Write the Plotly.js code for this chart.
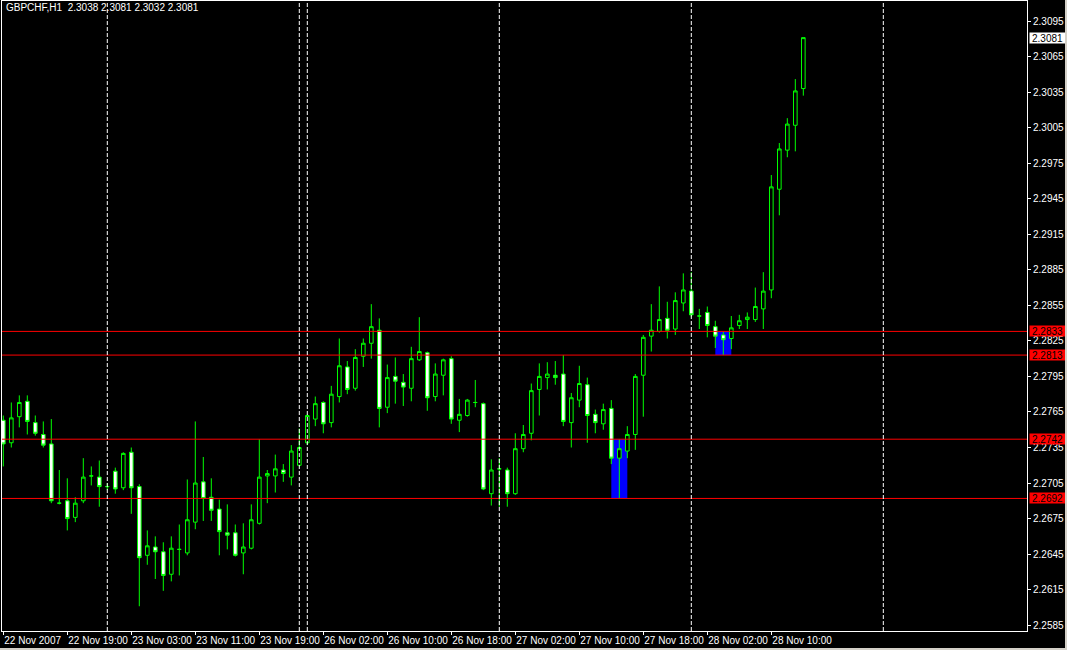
<!DOCTYPE html>
<html><head><meta charset="utf-8">
<script src="https://cdn.plot.ly/plotly-3.0.1.min.js"></script>
<style>html,body{margin:0;padding:0;background:#d4d0c8;overflow:hidden}#chart{width:1065px;height:648px;background:#000}</style>
</head><body><div id="chart"></div><script>
const symbolTitle = "GBPCHF,H1\u00a0\u00a02.3038 2.3081 2.3032 2.3081";
const openP = [2.2758,2.2739,2.2761,2.2774,2.2756,2.2746,2.2738,2.2688,2.2690,2.2676,
2.2690,2.2711,2.2710,2.2702,2.2715,2.2701,2.2731,2.2702,2.2644,2.2651,
2.2647,2.2628,2.2649,2.2646,2.2672,2.2706,2.2693,2.2683,2.2663,2.2663,
2.2646,2.2650,2.2671,2.2711,2.2711,2.2716,2.2710,2.2720,2.2739,2.2759,
2.2773,2.2756,2.2778,2.2803,2.2785,2.2812,2.2823,2.2834,2.2769,2.2795,
2.2790,2.2785,2.2809,2.2815,2.2778,2.2796,2.2810,2.2758,2.2762,2.2773,
2.2772,2.2696,2.2717,2.2716,2.2696,2.2734,2.2747,2.2784,2.2794,2.2796,
2.2797,2.2756,2.2775,2.2788,2.2763,2.2755,2.2768,2.2726,2.2732,2.2746,
2.2796,2.2829,2.2833,2.2844,2.2835,2.2857,2.2867,2.2846,2.2849,2.2837,
2.2830,2.2827,2.2838,2.2843,2.2843,2.2852,2.2868,2.2953,2.2986,2.3007,2.3038];
const highP = [2.2762,2.2773,2.2779,2.2779,2.2762,2.2757,2.2759,2.2716,2.2709,2.2693,
2.2726,2.2719,2.2724,2.2705,2.2718,2.2731,2.2735,2.2704,2.2665,2.2660,
2.2655,2.2660,2.2670,2.2708,2.2757,2.2727,2.2709,2.2691,2.2687,2.2670,
2.2671,2.2687,2.2742,2.2716,2.2729,2.2721,2.2737,2.2751,2.2763,2.2778,
2.2774,2.2787,2.2827,2.2808,2.2818,2.2827,2.2856,2.2844,2.2805,2.2811,
2.2797,2.2820,2.2845,2.2816,2.2806,2.2810,2.2812,2.2776,2.2776,2.2792,
2.2773,2.2725,2.2726,2.2718,2.2747,2.2754,2.2789,2.2806,2.2807,2.2808,
2.2813,2.2781,2.2804,2.2794,2.2767,2.2772,2.2775,2.2742,2.2753,2.2797,
2.2830,2.2856,2.2871,2.2858,2.2866,2.2882,2.2883,2.2852,2.2854,2.2842,
2.2833,2.2846,2.2847,2.2849,2.2870,2.2883,2.2965,2.2992,2.3013,2.3046,2.3081];
const lowP = [2.2719,2.2735,2.2752,2.2746,2.2745,2.2735,2.2688,2.2687,2.2665,2.2672,
2.2688,2.2703,2.2685,2.2699,2.2696,2.2699,2.2679,2.2601,2.2636,2.2624,
2.2614,2.2622,2.2627,2.2644,2.2666,2.2673,2.2673,2.2644,2.2649,2.2643,
2.2628,2.2649,2.2670,2.2688,2.2697,2.2706,2.2703,2.2719,2.2737,2.2753,
2.2747,2.2752,2.2773,2.2780,2.2783,2.2803,2.2810,2.2752,2.2764,2.2772,
2.2770,2.2774,2.2808,2.2766,2.2774,2.2779,2.2755,2.2748,2.2761,2.2769,
2.2699,2.2686,2.2685,2.2685,2.2695,2.2731,2.2741,2.2762,2.2784,2.2788,
2.2753,2.2735,2.2769,2.2739,2.2747,2.2750,2.2721,2.2692,2.2726,2.2733,
2.2761,2.2816,2.2832,2.2827,2.2830,2.2850,2.2845,2.2835,2.2828,2.2819,
2.2813,2.2818,2.2835,2.2835,2.2841,2.2835,2.2861,2.2931,2.2980,2.2985,2.3032];
const closeP = [2.2738,2.2760,2.2773,2.2757,2.2747,2.2737,2.2690,2.2688,2.2675,2.2688,
2.2710,2.2711,2.2702,2.2702,2.2700,2.2730,2.2701,2.2642,2.2652,2.2647,
2.2627,2.2650,2.2649,2.2674,2.2705,2.2692,2.2682,2.2664,2.2661,2.2644,
2.2651,2.2674,2.2710,2.2713,2.2717,2.2713,2.2732,2.2735,2.2762,2.2772,
2.2755,2.2780,2.2804,2.2784,2.2811,2.2823,2.2837,2.2768,2.2794,2.2791,
2.2786,2.2810,2.2816,2.2777,2.2797,2.2809,2.2759,2.2763,2.2775,2.2773,
2.2700,2.2716,2.2717,2.2696,2.2734,2.2746,2.2783,2.2795,2.2797,2.2794,
2.2757,2.2777,2.2789,2.2762,2.2756,2.2767,2.2726,2.2734,2.2746,2.2795,
2.2828,2.2834,2.2843,2.2834,2.2859,2.2868,2.2847,2.2846,2.2838,2.2829,
2.2826,2.2836,2.2842,2.2845,2.2854,2.2867,2.2955,2.2987,2.3008,2.3036,2.3081];
const tickBars = [0,8,16,24,32,40,48,56,64,72,80,88,96];
const tickLabels = ["22 Nov 2007","22 Nov 19:00","23 Nov 03:00","23 Nov 11:00","23 Nov 19:00",
"26 Nov 02:00","26 Nov 10:00","26 Nov 18:00","27 Nov 02:00","27 Nov 10:00","27 Nov 18:00",
"28 Nov 02:00","28 Nov 10:00"];
const priceTicks = [2.2585,2.2615,2.2645,2.2675,2.2705,2.2735,2.2765,2.2795,2.2825,2.2855,
2.2885,2.2915,2.2945,2.2975,2.3005,2.3035,2.3065,2.3095];
const separatorBars = [13,37,38,62,86,110];
const levelLines = [2.2833,2.2813,2.2742,2.2692];
const zoneStart = [76,89];
const zoneEnd = [78,91];
const zoneLow = [2.2692,2.2813];
const zoneHigh = [2.2742,2.2833];
const lastPrice = 2.3081;

const xs = openP.map((_, i) => i);
const FONT = "Liberation Sans, Arial, sans-serif";
const GREEN = "#00ff00";

const shapes = [];
zoneStart.forEach((s, k) => shapes.push({type:"rect", xref:"x", yref:"y", x0:s, x1:zoneEnd[k],
  y0:zoneLow[k], y1:zoneHigh[k], fillcolor:"#0000ff", line:{width:0}, layer:"below"}));
levelLines.forEach(v => shapes.push({type:"line", xref:"paper", yref:"y", x0:0, x1:1, y0:v, y1:v,
  line:{color:"#ff0000", width:1}, layer:"above"}));
separatorBars.forEach(b => shapes.push({type:"line", xref:"x", yref:"paper", x0:b, x1:b, y0:0, y1:1,
  line:{color:"#ffffff", width:1, dash:"4px,2px"}, layer:"above"}));

const annotations = levelLines.map(v => ({xref:"paper", yref:"y", x:1.002, y:v, xanchor:"left", yanchor:"middle",
  text:v.toFixed(4), showarrow:false, bgcolor:"#ff0000", borderpad:0, width:35, height:10,
  font:{family:FONT, size:10, color:"#000000"}}));
annotations.push({xref:"paper", yref:"y", x:1.002, y:lastPrice, xanchor:"left", yanchor:"middle",
  text:lastPrice.toFixed(4), showarrow:false, bgcolor:"#ffffff", borderpad:0, width:35, height:10,
  font:{family:FONT, size:10, color:"#000000"}});

const trace = {type:"candlestick", x:xs, open:openP, high:highP, low:lowP, close:closeP,
  increasing:{line:{color:GREEN, width:1}, fillcolor:"#000000"},
  decreasing:{line:{color:GREEN, width:1}, fillcolor:"#ffffff"},
  whiskerwidth:0, showlegend:false, hoverinfo:"skip"};

const layout = {
  width:1065, height:648,
  margin:{l:2, r:38, t:1, b:17, pad:0, autoexpand:false},
  paper_bgcolor:"#000000", plot_bgcolor:"#000000",
  font:{family:FONT, size:10, color:"#ffffff"},
  boxgap:0.35,
  title:{text:symbolTitle, x:6/1065, xanchor:"left", y:1-4/648, yanchor:"top",
    font:{family:FONT, size:10, color:"#ffffff"}},
  xaxis:{range:[-0.1625,127.96], showgrid:false, zeroline:false, showline:true, linecolor:"#ffffff",
    linewidth:1, mirror:true, ticks:"outside", ticklen:3, tickcolor:"#ffffff", tickangle:0,
    tickvals:tickBars, ticktext:tickLabels, ticklabelposition:"outside right", automargin:false,
    tickfont:{family:FONT, size:10, color:"#ffffff"}, rangeslider:{visible:false}, fixedrange:true},
  yaxis:{range:[2.25801,2.31119], side:"right", showgrid:false, zeroline:false, showline:true,
    linecolor:"#ffffff", linewidth:1, mirror:true, ticks:"outside", ticklen:3, tickcolor:"#ffffff",
    tickvals:priceTicks, ticktext:priceTicks.map(v => v.toFixed(4)), automargin:false,
    tickfont:{family:FONT, size:10, color:"#ffffff"}, fixedrange:true},
  shapes:shapes, annotations:annotations
};
Plotly.newPlot("chart", [trace], layout, {staticPlot:true, displayModeBar:false});
</script></body></html>
